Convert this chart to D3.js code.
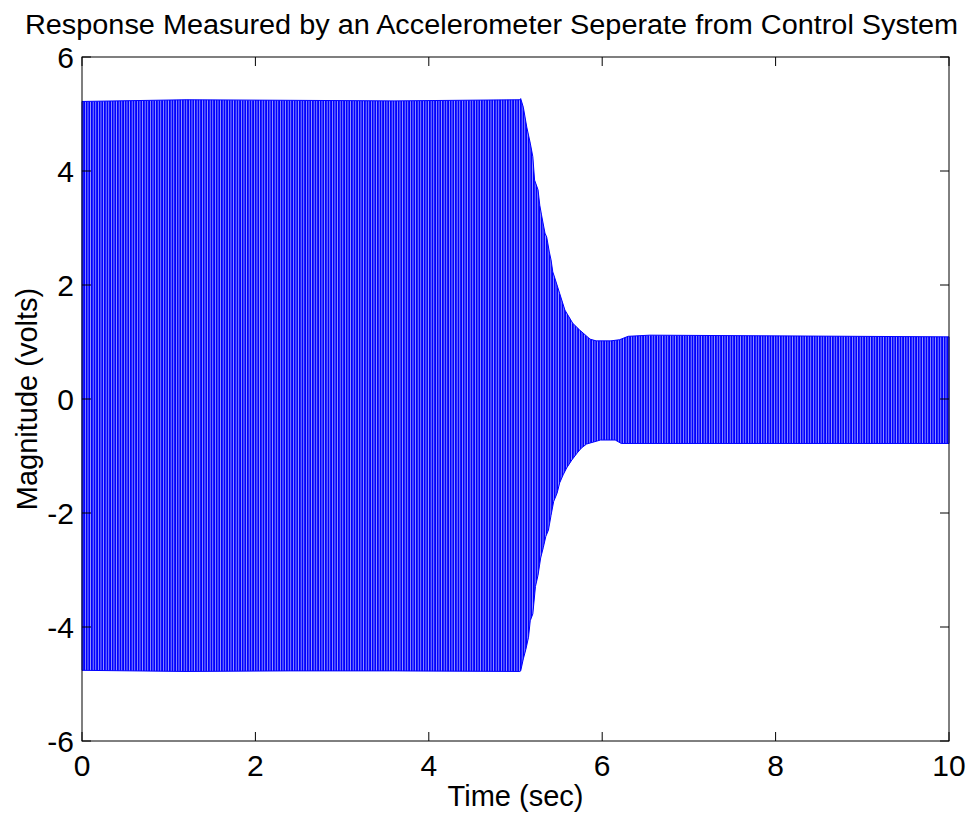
<!DOCTYPE html>
<html>
<head>
<meta charset="utf-8">
<script src="https://cdn.jsdelivr.net/npm/d3@7"></script>
<style>
  body { margin: 0; background: #ffffff; }
  text { font-family: "Liberation Sans", Arial, sans-serif; fill: #000; }
</style>
</head>
<body>
<div id="accel_graph"></div>
<script>
// envelope of the accelerometer trace (sec, volts)
var upperTime = [0, 1.2, 2.4, 3.6, 5.05, 5.06, 5.09, 5.13, 5.17, 5.2, 5.22, 5.26, 5.28, 5.3, 5.34, 5.36, 5.39, 5.41, 5.43, 5.45, 5.51, 5.57, 5.66, 5.74, 5.86, 5.93, 6.1, 6.2, 6.3, 6.55, 10];
var upperVolts = [5.22, 5.25, 5.24, 5.23, 5.25, 5.27, 5.12, 4.77, 4.49, 4.25, 3.84, 3.67, 3.4, 3.23, 2.91, 2.84, 2.58, 2.44, 2.23, 2.14, 1.85, 1.56, 1.33, 1.21, 1.05, 1.02, 1.02, 1.04, 1.1, 1.12, 1.09];
var lowerTime = [0, 1.2, 2.4, 3.6, 5.05, 5.06, 5.09, 5.12, 5.15, 5.17, 5.2, 5.23, 5.26, 5.29, 5.32, 5.35, 5.38, 5.41, 5.44, 5.48, 5.51, 5.55, 5.59, 5.65, 5.71, 5.76, 5.82, 5.98, 6.15, 6.22, 10];
var lowerVolts = [-4.76, -4.78, -4.77, -4.77, -4.78, -4.77, -4.56, -4.39, -4.18, -3.89, -3.77, -3.29, -3.09, -2.79, -2.61, -2.41, -2.3, -2.04, -1.8, -1.65, -1.47, -1.33, -1.21, -1.07, -0.95, -0.86, -0.79, -0.72, -0.72, -0.78, -0.78];

var xTicks = [0, 2, 4, 6, 8, 10];
var yTicks = [-6, -4, -2, 0, 2, 4, 6];

var width = 976,
  height = 817,
  margins = { left: 82, right: 27, top: 57, bottom: 76 },
  tickLen = 9,
  tickFont = "30px",
  labelFont = "29px";

var svg = d3
  .select("div#accel_graph")
  .append("svg")
  .attr("width", width)
  .attr("height", height);

svg.append("rect").attr("width", width).attr("height", height).attr("fill", "#fff");

var xScale = d3.scaleLinear().domain([0, 10]).range([margins.left, width - margins.right]);
var yScale = d3.scaleLinear().domain([-6, 6]).range([height - margins.bottom, margins.top]);

drawTrace();
drawAxes();
drawLabels();

function drawTrace() {
  // fine vertical striping stands in for the dense oscillation lines
  var defs = svg.append("defs");
  var pat = defs
    .append("pattern")
    .attr("id", "osc")
    .attr("patternUnits", "userSpaceOnUse")
    .attr("width", 2.6)
    .attr("height", 10);
  pat.append("rect").attr("width", 2.6).attr("height", 10).attr("fill", "#b4b4ff");
  pat.append("rect").attr("width", 1.85).attr("height", 10).attr("fill", "#0000ff");

  var pts = [];
  upperTime.forEach(function (t, i) {
    pts.push([t, upperVolts[i]]);
  });
  for (var i = lowerTime.length - 1; i >= 0; i--) {
    pts.push([lowerTime[i], lowerVolts[i]]);
  }
  var line = d3
    .line()
    .x(function (d) { return xScale(d[0]); })
    .y(function (d) { return yScale(d[1]); });

  svg
    .append("path")
    .attr("d", line(pts) + "Z")
    .attr("fill", "url(#osc)")
    .attr("stroke", "#0000ff")
    .attr("stroke-width", 1);
}

function drawAxes() {
  var x0 = xScale(0), x1 = xScale(10), y0 = yScale(-6), y1 = yScale(6);
  var g = svg.append("g").attr("class", "axes");

  // ticks point inward on all four sides
  xTicks.forEach(function (t) {
    g.append("line").attr("x1", xScale(t)).attr("x2", xScale(t)).attr("y1", y0).attr("y2", y0 - tickLen)
      .attr("stroke", "#000");
    g.append("line").attr("x1", xScale(t)).attr("x2", xScale(t)).attr("y1", y1).attr("y2", y1 + tickLen)
      .attr("stroke", "#000");
    g.append("text")
      .attr("x", xScale(t))
      .attr("y", y0 + 35)
      .attr("text-anchor", "middle")
      .attr("font-size", tickFont)
      .text(t);
  });
  yTicks.forEach(function (t) {
    g.append("line").attr("x1", x0).attr("x2", x0 + tickLen).attr("y1", yScale(t)).attr("y2", yScale(t))
      .attr("stroke", "#000");
    g.append("line").attr("x1", x1).attr("x2", x1 - tickLen).attr("y1", yScale(t)).attr("y2", yScale(t))
      .attr("stroke", "#000");
    g.append("text")
      .attr("x", x0 - 8)
      .attr("y", yScale(t) + 11)
      .attr("text-anchor", "end")
      .attr("font-size", tickFont)
      .text(t);
  });

  g.append("rect")
    .attr("x", x0)
    .attr("y", y1)
    .attr("width", x1 - x0)
    .attr("height", y0 - y1)
    .attr("fill", "none")
    .attr("stroke", "#000")
    .attr("stroke-width", 1);
}

function drawLabels() {
  svg
    .append("text")
    .attr("x", 25)
    .attr("y", 34)
    .attr("font-size", "27px")
    .attr("textLength", 933)
    .attr("lengthAdjust", "spacingAndGlyphs")
    .text("Response Measured by an Accelerometer Seperate from Control System");

  svg
    .append("text")
    .attr("x", (xScale(0) + xScale(10)) / 2)
    .attr("y", 806)
    .attr("text-anchor", "middle")
    .attr("font-size", labelFont)
    .text("Time (sec)");

  svg
    .append("text")
    .attr("transform", "translate(37," + yScale(0) + ") rotate(-90)")
    .attr("text-anchor", "middle")
    .attr("font-size", labelFont)
    .text("Magnitude (volts)");
}
</script>
</body>
</html>
